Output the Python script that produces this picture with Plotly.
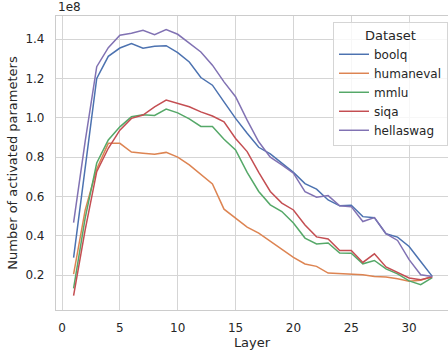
import plotly.graph_objects as go

SCALE = 1e8
layers = list(range(1, 33))

boolq = [0.289, 0.75, 1.20, 1.313, 1.355, 1.378, 1.354, 1.364, 1.367, 1.332, 1.284, 1.205,
         1.166, 1.081, 0.997, 0.921, 0.85, 0.816, 0.769, 0.722, 0.665, 0.637, 0.582, 0.552,
         0.555, 0.497, 0.492, 0.41, 0.393, 0.345, 0.269, 0.193]
humaneval = [0.205, 0.53, 0.74, 0.87, 0.87, 0.826, 0.82, 0.814, 0.824, 0.80, 0.76, 0.709,
             0.663, 0.535, 0.489, 0.444, 0.413, 0.371, 0.332, 0.29, 0.256, 0.244, 0.21, 0.207,
             0.207, 0.201, 0.193, 0.19, 0.181, 0.168, 0.173, 0.193]
mmlu = [0.132, 0.49, 0.77, 0.887, 0.954, 1.005, 1.015, 1.012, 1.044, 1.025, 0.995, 0.956,
        0.956, 0.891, 0.836, 0.722, 0.625, 0.557, 0.523, 0.465, 0.388, 0.358, 0.363, 0.312,
        0.311, 0.257, 0.274, 0.231, 0.206, 0.17, 0.151, 0.187]
siqa = [0.095, 0.43, 0.726, 0.845, 0.937, 0.997, 1.014, 1.056, 1.09, 1.073, 1.056, 1.03,
        1.009, 0.98, 0.895, 0.828, 0.722, 0.625, 0.566, 0.531, 0.455, 0.394, 0.383, 0.325,
        0.325, 0.264, 0.308, 0.241, 0.215, 0.185, 0.176, 0.19]
hellaswag = [0.467, 0.88, 1.26, 1.357, 1.42, 1.43, 1.445, 1.423, 1.449, 1.425, 1.38, 1.335,
             1.268, 1.183, 1.107, 0.988, 0.878, 0.80, 0.76, 0.718, 0.624, 0.596, 0.604, 0.552,
             0.548, 0.472, 0.492, 0.41, 0.376, 0.278, 0.201, 0.193]

series_names = ["boolq", "humaneval", "mmlu", "siqa", "hellaswag"]
series_values = [boolq, humaneval, mmlu, siqa, hellaswag]
colors = ["#4c72b0", "#dd8452", "#55a868", "#c44e52", "#8172b3"]

x_ticks = [0, 5, 10, 15, 20, 25, 30]
y_ticks = [0.2, 0.4, 0.6, 0.8, 1.0, 1.2, 1.4]
y_tick_labels = ["0.2", "0.4", "0.6", "0.8", "1.0", "1.2", "1.4"]

fig = go.Figure()
for name, vals, c in zip(series_names, series_values, colors):
    fig.add_trace(go.Scatter(
        x=layers, y=[v * SCALE for v in vals], mode="lines", name=name,
        line=dict(color=c, width=1.5)))

font = dict(family="DejaVu Sans", size=12, color="#262626")
fig.update_layout(
    width=448, height=354,
    margin=dict(l=56, r=0, t=16, b=44),
    paper_bgcolor="white", plot_bgcolor="white",
    font=font,
    showlegend=True,
    legend=dict(
        title=dict(text="Dataset", font=dict(size=13), side="top center"),
        x=0.707, y=0.98, xanchor="left", yanchor="top",
        bgcolor="rgba(255,255,255,0.8)", bordercolor="#d5d5d5", borderwidth=1,
        font=dict(size=12), itemwidth=30, tracegroupgap=0,
    ),
)
fig.update_xaxes(
    range=[-0.52, 33.36], tickvals=x_ticks, showgrid=True, gridcolor="#d5d5d5", gridwidth=1.2,
    showline=True, linecolor="#cccccc", linewidth=1.2, mirror=True, zeroline=False,
    ticks="", ticklabelstandoff=6,
    title=dict(text="Layer", font=dict(size=13), standoff=4),
)
fig.update_yaxes(
    range=[0.022 * SCALE, 1.518 * SCALE], tickvals=[t * SCALE for t in y_ticks],
    ticktext=y_tick_labels, showgrid=True, gridcolor="#d5d5d5", gridwidth=1.2,
    showline=True, linecolor="#cccccc", linewidth=1.2, mirror=True, zeroline=False,
    ticks="", ticklabelstandoff=8,
    title=dict(text="Number of activated parameters", font=dict(size=13), standoff=4),
)
fig.add_annotation(text="1e8", xref="paper", yref="paper", x=0, y=1, xanchor="left",
                   yanchor="bottom", showarrow=False, font=dict(size=12, color="#262626"),
                   yshift=0)
fig.write_html("out.html")
